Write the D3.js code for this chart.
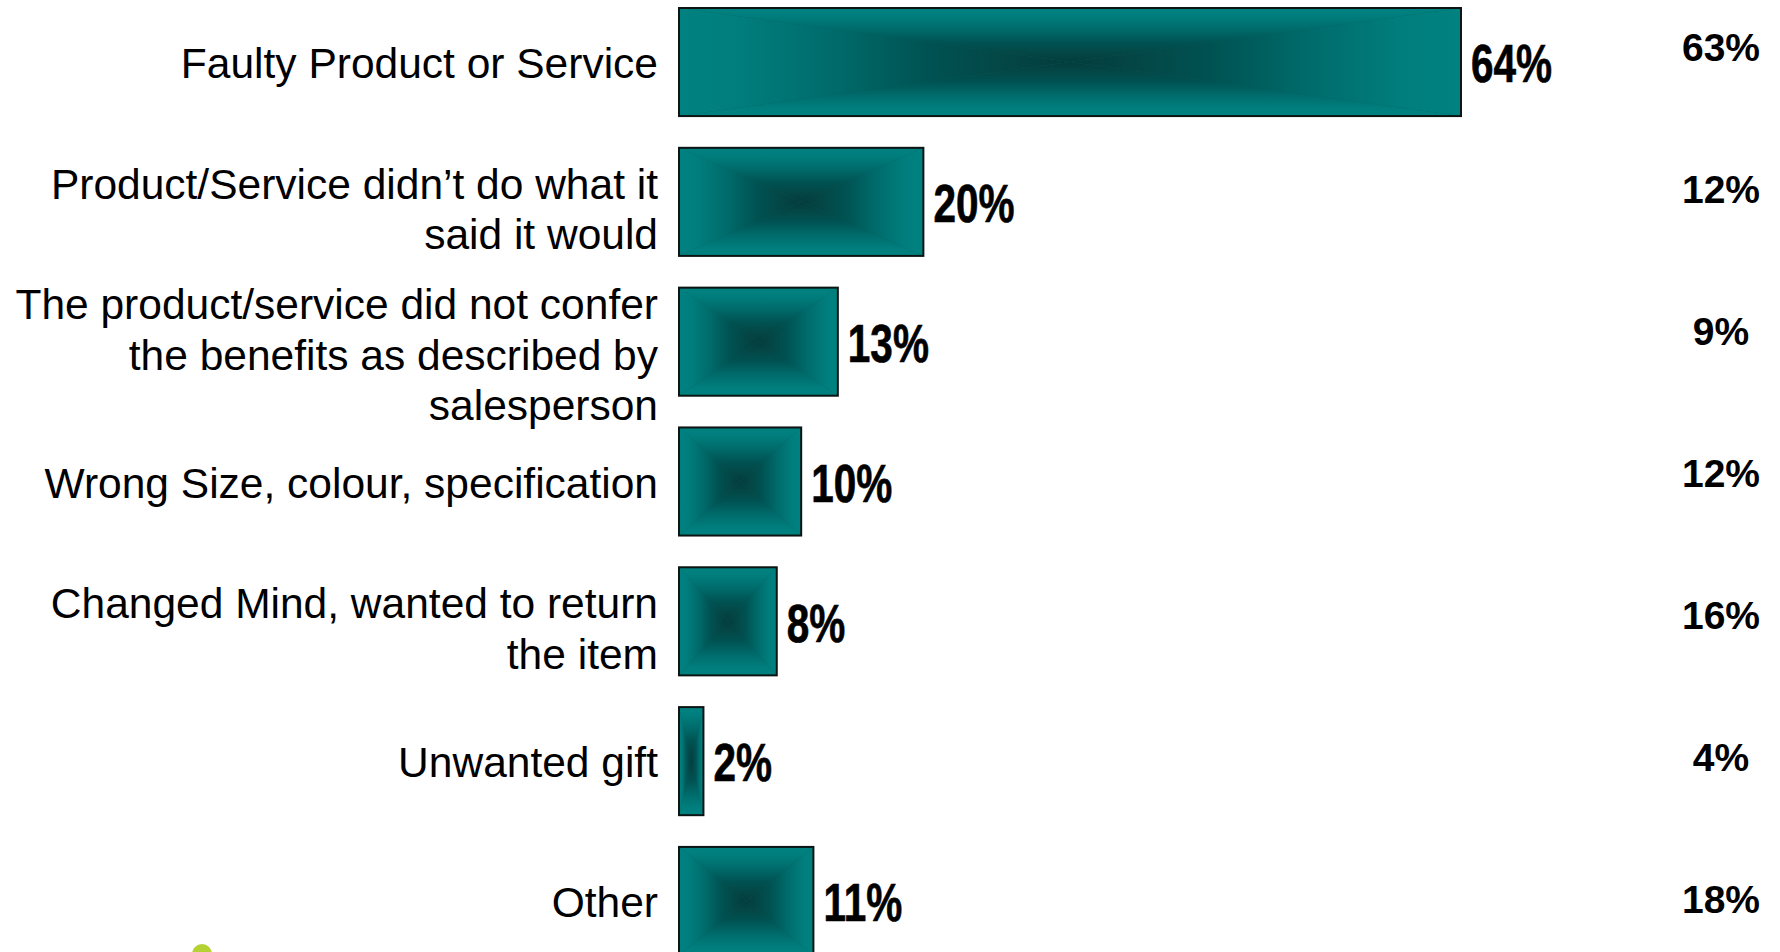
<!DOCTYPE html>
<html>
<head>
<meta charset="utf-8">
<script src="https://cdn.jsdelivr.net/npm/d3@7"></script>
<style>
  html, body { margin: 0; padding: 0; background: #ffffff; }
  svg { display: block; }
</style>
</head>
<body>
<svg id="chart" width="1780" height="952"></svg>
<script>
// Reasons for returning a product (share of responses)
const categories = [
  ["Faulty Product or Service"],
  ["Product/Service didn’t do what it", "said it would"],
  ["The product/service did not confer", "the benefits as described by", "salesperson"],
  ["Wrong Size, colour, specification"],
  ["Changed Mind, wanted to return", "the item"],
  ["Unwanted gift"],
  ["Other"]
];
const currentValues = [64, 20, 13, 10, 8, 2, 11];
const comparisonValues = [63, 12, 9, 12, 16, 4, 18];

const svg = d3.select("#chart");
const keys = categories.map((c, i) => i);

const y = d3.scaleBand()
  .domain(keys)
  .range([8, 955])
  .paddingInner(0.227)
  .paddingOuter(0);

const x = d3.scaleLinear()
  .domain([0, d3.max(currentValues)])
  .range([679, 1461]);

// right-hand comparison column runs on its own vertical scale
const yRight = d3.scaleLinear()
  .domain([0, keys.length - 1])
  .range([51, 903]);

// rectangular "from centre" shading: four triangles, each with a linear ramp
const defs = svg.append("defs");
const rampStops = [
  [0, "#008280"],
  [0.15, "#007e7d"],
  [0.38, "#006c6c"],
  [0.64, "#005252"],
  [0.82, "#044747"],
  [1, "#043c3c"]
];
function ramp(id, x1, y1, x2, y2) {
  const g = defs.append("linearGradient").attr("id", id)
    .attr("x1", x1).attr("y1", y1).attr("x2", x2).attr("y2", y2);
  rampStops.forEach(([o, c]) => g.append("stop").attr("offset", o).attr("stop-color", c));
}
ramp("rampTop", 0, 0, 0, 1);
ramp("rampBottom", 0, 1, 0, 0);
ramp("rampLeft", 0, 0, 1, 0);
ramp("rampRight", 1, 0, 0, 0);

const bars = svg.append("g").selectAll("g.bar")
  .data(keys)
  .join("g").attr("class", "bar");

bars.each(function (i) {
  const g = d3.select(this);
  const x0 = x(0), x1 = x(currentValues[i]);
  const y0 = y(i), y1 = y(i) + y.bandwidth();
  const cx = (x0 + x1) / 2, cy = (y0 + y1) / 2;
  g.append("rect")
    .attr("x", x0).attr("y", y0)
    .attr("width", x1 - x0).attr("height", y1 - y0)
    .attr("fill", "#01605f");
  const tris = [
    [[x0, y0], [x1, y0], [cx, cy], "rampTop"],
    [[x0, y1], [x1, y1], [cx, cy], "rampBottom"],
    [[x0, y0], [x0, y1], [cx, cy], "rampLeft"],
    [[x1, y0], [x1, y1], [cx, cy], "rampRight"]
  ];
  tris.forEach(t => {
    g.append("path")
      .attr("d", "M" + t[0] + "L" + t[1] + "L" + t[2] + "Z")
      .attr("fill", "url(#" + t[3] + ")");
  });
  g.append("rect")
    .attr("x", x0).attr("y", y0)
    .attr("width", x1 - x0).attr("height", y1 - y0)
    .attr("fill", "none")
    .attr("stroke", "#0d1414")
    .attr("stroke-width", 2);
});

// value labels at the bar ends, set in a condensed bold face
svg.append("g").selectAll("text")
  .data(keys)
  .join("text")
  .attr("transform", i => `translate(${x(currentValues[i]) + 10},${y(i) + y.bandwidth() / 2 + 6}) scale(0.75,1)`)
  .attr("dominant-baseline", "middle")
  .attr("font-family", "'Liberation Sans', Arial, sans-serif")
  .attr("font-weight", "bold")
  .attr("font-size", 54)
  .attr("fill", "#000")
  .attr("stroke", "#000")
  .attr("stroke-width", 0.7)
  .text(i => currentValues[i] + "%");

// category labels, right aligned against the bars
const lineH = 50.5;
const labels = svg.append("g").selectAll("text")
  .data(keys)
  .join("text")
  .attr("text-anchor", "end")
  .attr("font-family", "'Liberation Sans', Arial, sans-serif")
  .attr("font-size", 42.5)
  .attr("fill", "#000");
labels.each(function (i) {
  const lines = categories[i];
  const n = lines.length;
  const mid = y(i) + y.bandwidth() / 2 + 5 + (n - 1) * 6;
  d3.select(this).selectAll("tspan")
    .data(lines)
    .join("tspan")
    .attr("x", 658)
    .attr("y", (d, k) => mid + (k - (n - 1) / 2) * lineH)
    .attr("dominant-baseline", "middle")
    .text(d => d);
});

// comparison column
svg.append("g").selectAll("text")
  .data(keys)
  .join("text")
  .attr("x", 1721)
  .attr("y", i => yRight(i))
  .attr("text-anchor", "middle")
  .attr("dominant-baseline", "middle")
  .attr("font-family", "'Liberation Sans', Arial, sans-serif")
  .attr("font-weight", "bold")
  .attr("font-size", 39)
  .attr("fill", "#000")
  .text(i => comparisonValues[i] + "%");

// small green marker at the lower edge
svg.append("circle")
  .attr("cx", 202).attr("cy", 954).attr("r", 10)
  .attr("fill", "#b5d234");
</script>
</body>
</html>
